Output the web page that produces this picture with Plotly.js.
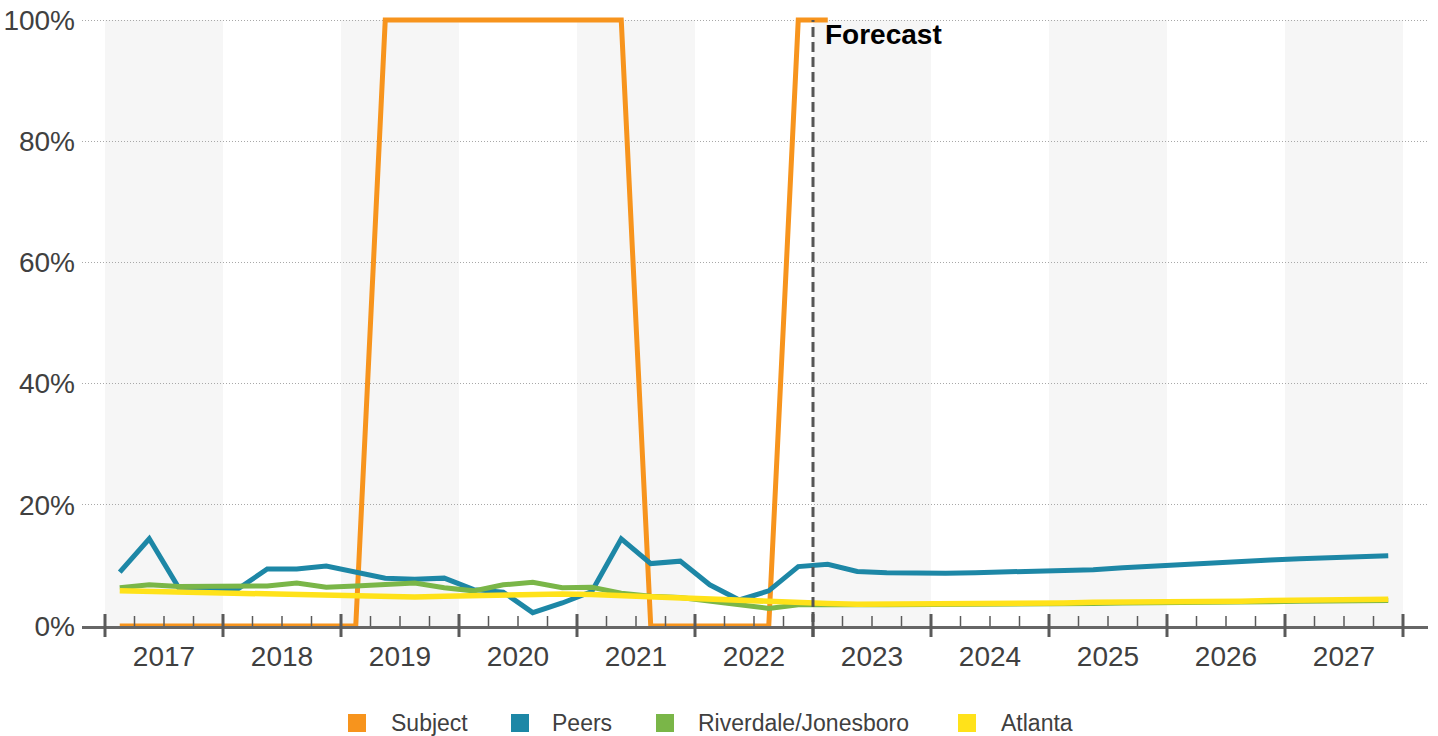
<!DOCTYPE html>
<html>
<head>
<meta charset="utf-8">
<script src="https://cdn.plot.ly/plotly-3.0.1.min.js"></script>
<style>
  html, body { margin: 0; padding: 0; background: #ffffff; }
  #chart { width: 1438px; height: 736px; }
</style>
</head>
<body>
<div id="chart"></div>
<script>
// Quarterly vacancy series, 2017 Q1 – 2027 Q4 (forecast from 2023 Q1)
const years = [2017, 2018, 2019, 2020, 2021, 2022, 2023, 2024, 2025, 2026, 2027];
const forecastStart = 2023;

const subject = [
  0, 0, 0, 0, 0, 0, 0, 0, 0,
  100, 100, 100, 100, 100, 100, 100, 100, 100,
  0, 0, 0, 0, 0,
  100, 100
];

const peers = [
  8.9, 14.4, 6.3, 6.2, 6.1, 9.4, 9.4, 9.9,
  8.9, 7.9, 7.7, 7.9, 6.0, 5.6, 2.2, 3.8,
  5.7, 14.4, 10.3, 10.7, 6.8, 4.3, 5.8, 9.8,
  10.2, 9.0, 8.8, 8.7, 8.7, 8.8, 8.9, 9.0,
  9.2, 9.3, 9.6, 9.9, 10.2, 10.4, 10.7, 10.9,
  11.1, 11.3, 11.4, 11.6
];

const riverdale = [
  6.3, 6.8, 6.5, 6.5, 6.5, 6.6, 7.1, 6.4,
  6.6, 6.8, 7.1, 6.3, 5.8, 6.8, 7.2, 6.3,
  6.4, 5.4, 4.9, 4.7, 4.1, 3.4, 2.9, 3.5,
  3.6, 3.5, 3.5, 3.5, 3.5, 3.6, 3.6, 3.6,
  3.7, 3.7, 3.8, 3.8, 3.9, 3.9, 4.0, 4.0,
  4.1, 4.1, 4.2, 4.2
];

const atlanta = [
  5.8, 5.7, 5.6, 5.5, 5.4, 5.3, 5.1, 5.1,
  5.0, 4.8, 4.8, 4.9, 5.0, 5.1, 5.3, 5.3,
  5.2, 5.0, 4.7, 4.6, 4.3, 4.1, 3.9, 3.8,
  3.7, 3.6, 3.6, 3.6, 3.7, 3.7, 3.7, 3.8,
  3.8, 3.9, 3.9, 4.0, 4.0, 4.1, 4.1, 4.2,
  4.2, 4.3, 4.3, 4.4
];

const seriesNames = ['Subject', 'Peers', 'Riverdale/Jonesboro', 'Atlanta'];
const seriesValues = [subject, peers, riverdale, atlanta];
const seriesColors = ['#F7941D', '#1D87A6', '#7AB648', '#FFE21A'];
const seriesWidths = [5, 5, 5, 5.5];

const yTicks = [0, 20, 40, 60, 80, 100];

// Each quarter sits at the middle of its quarter-year slot
const quarterX = [];
years.forEach(y => { for (let q = 0; q < 4; q++) quarterX.push(y + (q + 0.5) / 4); });

const traces = seriesValues.map((vals, i) => ({
  type: 'scatter',
  mode: 'lines',
  name: seriesNames[i],
  x: quarterX.slice(0, vals.length),
  y: vals,
  line: { color: seriesColors[i], width: seriesWidths[i], shape: 'linear' },
  showlegend: false,
  hoverinfo: 'skip'
}));

// Plot geometry (pixels) used for paper-coordinate decorations
const W = 1438, H = 736;
const M = { l: 82, r: 10, t: 8, b: 110 };
const plotW = W - M.l - M.r;
const plotH = H - M.t - M.b;
const pxPerYear = 118;
const xMin = years[0] - (105 - M.l) / pxPerYear;
const xMax = xMin + plotW / pxPerYear;
const yMax = 102;
const paperY = py => (H - M.b - py) / plotH;   // pixel row -> paper y
const paperX = px => (px - M.l) / plotW;       // pixel col -> paper x

const shapes = [];

// alternating year bands
years.forEach((y, i) => {
  if (i % 2 === 0) {
    shapes.push({
      type: 'rect', xref: 'x', yref: 'y', x0: y, x1: y + 1, y0: 0, y1: 100,
      fillcolor: '#f6f6f6', line: { width: 0 }, layer: 'below'
    });
  }
});

// year boundary ticks, crossing the axis
const boundaries = years.concat([years[years.length - 1] + 1]);
boundaries.forEach(b => {
  shapes.push({
    type: 'line', xref: 'x', yref: 'paper', x0: b, x1: b,
    y0: -11 / plotH, y1: 12 / plotH,
    line: { color: '#5a5a5a', width: 3 }, layer: 'above'
  });
});

// quarter ticks, above the axis
years.forEach(y => {
  for (let q = 1; q < 4; q++) {
    shapes.push({
      type: 'line', xref: 'x', yref: 'paper', x0: y + q / 4, x1: y + q / 4,
      y0: 0, y1: 10 / plotH,
      line: { color: '#5a5a5a', width: 1.5 }, layer: 'above'
    });
  }
});

// forecast divider
shapes.push({
  type: 'line', xref: 'x', yref: 'paper', x0: forecastStart, x1: forecastStart,
  y0: -11 / plotH, y1: 100 / yMax,
  line: { color: '#555555', width: 3, dash: '10px,5px' }, layer: 'above'
});

// legend swatches + labels
const legendX = [348, 511, 656, 958];
const legendTextX = [389, 550, 696, 999];
const annotations = [];
seriesNames.forEach((n, i) => {
  shapes.push({
    type: 'rect', xref: 'paper', yref: 'paper',
    x0: paperX(legendX[i]), x1: paperX(legendX[i] + 18),
    y0: paperY(732), y1: paperY(714),
    fillcolor: seriesColors[i], line: { width: 0 }
  });
  annotations.push({
    xref: 'paper', yref: 'paper', x: paperX(legendTextX[i]), y: paperY(723),
    xanchor: 'left', yanchor: 'middle', showarrow: false, text: n,
    font: { family: 'Liberation Sans, Arial, sans-serif', size: 23, color: '#404040' }
  });
});

annotations.push({
  xref: 'x', yref: 'paper', x: forecastStart, y: paperY(35),
  xanchor: 'left', yanchor: 'middle', xshift: 10, showarrow: false,
  text: '<b>Forecast</b>',
  font: { family: 'Liberation Sans, Arial, sans-serif', size: 28, color: '#000000' }
});

const layout = {
  width: W, height: H,
  margin: M,
  paper_bgcolor: '#ffffff',
  plot_bgcolor: '#ffffff',
  font: { family: 'Liberation Sans, Arial, sans-serif', color: '#404040' },
  showlegend: false,
  xaxis: {
    range: [xMin, xMax],
    tickmode: 'array',
    tickvals: years.map(y => y + 0.5),
    ticktext: years.map(String),
    ticks: '',
    ticklabelstandoff: 3,
    tickfont: { size: 28, color: '#404040' },
    showgrid: false,
    zeroline: false,
    showline: true,
    linecolor: '#666666',
    linewidth: 3,
    fixedrange: true
  },
  yaxis: {
    range: [0, yMax],
    tickmode: 'array',
    tickvals: yTicks,
    ticktext: yTicks.map(v => v + '%'),
    ticks: '',
    ticklabelstandoff: 6,
    tickfont: { size: 28, color: '#404040' },
    showgrid: true,
    gridcolor: '#a8a8a8',
    gridwidth: 1,
    griddash: '1px,2px',
    zeroline: false,
    showline: false,
    fixedrange: true
  },
  shapes: shapes,
  annotations: annotations
};

Plotly.newPlot('chart', traces, layout, { displayModeBar: false, staticPlot: true });
</script>
</body>
</html>
